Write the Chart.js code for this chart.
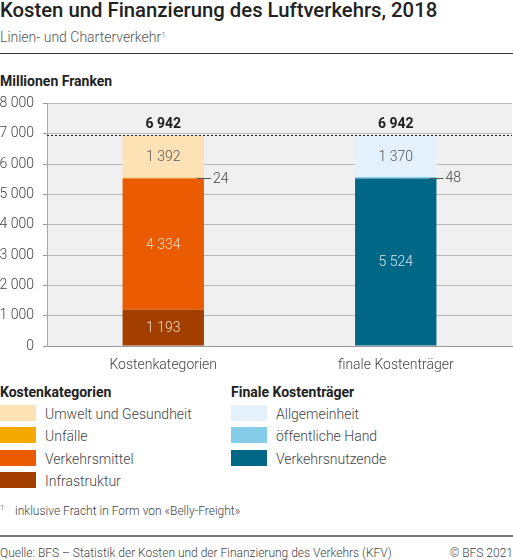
<!DOCTYPE html>
<html lang="de">
<head>
<meta charset="utf-8">
<script src="https://cdn.jsdelivr.net/npm/chart.js@4.4.1/dist/chart.umd.min.js"></script>
<style>
    body { margin: 0; background: #fff; font-family: Roboto, 'Noto Sans', sans-serif; color: #333; }
    #page { position: relative; width: 513px; height: 560px; overflow: hidden; }
    .abs { position: absolute; white-space: nowrap; }
    .title { left: 0; top: 0; font-size: 20.3px; line-height: 20px; font-weight: 500; color: #222; }
    .subtitle { left: 0; top: 30px; font-size: 14px; line-height: 14px; font-weight: 300; color: #555; }
    .subtitle sup, .note sup { font-size: 8px; vertical-align: 5px; line-height: 0; }
    .rule { left: 0; width: 513px; }
    .unit { left: 0; top: 74px; font-size: 14px; line-height: 14px; font-weight: 700; color: #222; }
    .lg-head { top: 385px; font-size: 14px; line-height: 14px; font-weight: 700; color: #222; }
    .sw { width: 36px; height: 16px; }
    .lg-text { font-size: 14px; line-height: 14px; font-weight: 300; color: #444; }
    .note { left: 0; top: 505px; font-size: 12px; line-height: 12px; font-weight: 300; color: #444; }
    .source { top: 547px; font-size: 12px; line-height: 12px; font-weight: 300; color: #444; }
    canvas { position: absolute; left: 0; top: 86px; }
</style>
</head>
<body>
<div id="page">
    <div class="abs title">Kosten und Finanzierung des Luftverkehrs, 2018</div>
    <div class="abs subtitle">Linien- und Charterverkehr<sup>1</sup></div>
    <div class="abs rule" style="top:53px;height:1px;background:#333;"></div>
    <div class="abs unit">Millionen Franken</div>
    <canvas id="myChart" width="513" height="290"></canvas>
    <div id="legend"></div>
    <div class="abs note"><sup>1</sup><span style="position:absolute;left:15px;top:0;">inklusive Fracht in Form von «Belly-Freight»</span></div>
    <div class="abs rule" style="top:535px;height:2px;background:#777;"></div>
    <div class="abs source" style="left:0;">Quelle: BFS – Statistik der Kosten und der Finanzierung des Verkehrs (KFV)</div>
    <div class="abs source" style="right:0;">© BFS 2021</div>
</div>
<script>
const categories = ['Kostenkategorien', 'finale Kostenträger'];
const yTicks = [0, 1000, 2000, 3000, 4000, 5000, 6000, 7000, 8000];
const totals = [6942, 6942];

// Kostenkategorien (bottom to top)
const infrastruktur = [1193, null];
const verkehrsmittel = [4334, null];
const unfaelle = [24, null];
const umwelt = [1392, null];

// finale Kostenträger (bottom to top)
const verkehrsnutzende = [null, 5524];
const oeffentlicheHand = [null, 48];
const allgemeinheit = [null, 1370];

const fmt = (v) => String(v).replace(/\B(?=(\d{3})+(?!\d))/g, ' ');

const datasets = [
    { label: 'Infrastruktur', data: infrastruktur, backgroundColor: '#a13e00', textColor: 'rgba(255,240,230,0.9)' },
    { label: 'Verkehrsmittel', data: verkehrsmittel, backgroundColor: '#ea5b02', textColor: 'rgba(255,240,230,0.9)' },
    { label: 'Unfälle', data: unfaelle, backgroundColor: '#f5a800', textColor: '#444' },
    { label: 'Umwelt und Gesundheit', data: umwelt, backgroundColor: '#fde2b6', textColor: '#555' },
    { label: 'Verkehrsnutzende', data: verkehrsnutzende, backgroundColor: '#006786', textColor: 'rgba(230,245,250,0.9)' },
    { label: 'öffentliche Hand', data: oeffentlicheHand, backgroundColor: '#85cde8', textColor: '#444' },
    { label: 'Allgemeinheit', data: allgemeinheit, backgroundColor: '#e3f1fc', textColor: '#555' }
];

// legend in two columns, top row first
const legendCols = [
    { head: 'Kostenkategorien', x: 0, items: [datasets[3], datasets[2], datasets[1], datasets[0]] },
    { head: 'Finale Kostenträger', x: 231, items: [datasets[6], datasets[5], datasets[4]] }
];
const legend = document.getElementById('legend');
for (let col of legendCols) {
    const h = document.createElement('div');
    h.className = 'abs lg-head';
    h.style.left = col.x + 'px';
    h.textContent = col.head;
    legend.append(h);
    col.items.forEach((ds, i) => {
        const sw = document.createElement('div');
        sw.className = 'abs sw';
        sw.style.left = col.x + 'px';
        sw.style.top = (405 + i * 22.4) + 'px';
        sw.style.background = ds.backgroundColor;
        const t = document.createElement('div');
        t.className = 'abs lg-text';
        t.style.left = (col.x + 45) + 'px';
        t.style.top = (407 + i * 22.4) + 'px';
        t.textContent = ds.label;
        legend.append(sw, t);
    });
}

const plotBackground = {
    id: 'plotBackground',
    beforeDraw(chart) {
        const { ctx, chartArea: a } = chart;
        ctx.save();
        ctx.fillStyle = '#f0f0f0';
        ctx.fillRect(a.left, a.top, a.right - a.left, a.bottom - a.top);
        ctx.restore();
    }
};

const barLabels = {
    id: 'barLabels',
    afterDatasetsDraw(chart) {
        const { ctx, chartArea: a } = chart;
        const y = chart.scales.y;
        const x = chart.scales.x;
        ctx.save();
        ctx.font = '300 14px Roboto, sans-serif';
        ctx.textBaseline = 'middle';
        chart.data.datasets.forEach((ds, di) => {
            chart.getDatasetMeta(di).data.forEach((bar, i) => {
                const v = ds.data[i];
                if (v === null) return;
                const mid = (bar.y + bar.base) / 2;
                if (v > 200) {
                    ctx.fillStyle = ds.textColor;
                    ctx.textAlign = 'center';
                    ctx.fillText(fmt(v), bar.x, mid + 1);
                } else {
                    const right = bar.x + bar.width / 2;
                    ctx.strokeStyle = '#555';
                    ctx.lineWidth = 1;
                    ctx.beginPath();
                    ctx.moveTo(right - 7, Math.round(mid) + 0.5);
                    ctx.lineTo(right + 7, Math.round(mid) + 0.5);
                    ctx.stroke();
                    ctx.fillStyle = '#444';
                    ctx.textAlign = 'left';
                    ctx.fillText(fmt(v), right + 9, mid + 1);
                }
            });
        });
        // total line and labels
        const ty = Math.round(y.getPixelForValue(totals[0])) + 0.5;
        ctx.strokeStyle = '#222';
        ctx.setLineDash([2, 2]);
        ctx.beginPath();
        ctx.moveTo(a.left, ty);
        ctx.lineTo(a.right, ty);
        ctx.stroke();
        ctx.setLineDash([]);
        ctx.font = '700 14px Roboto, sans-serif';
        ctx.fillStyle = '#222';
        ctx.textAlign = 'center';
        totals.forEach((t, i) => {
            ctx.fillText(fmt(t), x.getPixelForValue(i), y.getPixelForValue(t) - 11);
        });
        ctx.restore();
    }
};

const ctx = document.getElementById('myChart').getContext('2d');
var myChart = new Chart(ctx, { // eslint-disable-line
    type: 'bar',
    data: {
        labels: categories,
        datasets: datasets.map(ds => ({
            label: ds.label,
            data: ds.data,
            backgroundColor: ds.backgroundColor,
            textColor: ds.textColor,
            borderWidth: 0,
            categoryPercentage: 1,
            barPercentage: 0.35
        }))
    },
    options: {
        responsive: false,
        animation: false,
        layout: { padding: { top: 7, right: 1 } },
        plugins: {
            legend: { display: false },
            tooltip: { enabled: false }
        },
        scales: {
            x: {
                stacked: true,
                grid: { display: false, drawTicks: false },
                border: { color: '#999', width: 1 },
                ticks: { color: '#444', padding: 11, font: { family: 'Roboto', size: 14, weight: 300 } },
                afterFit: (scale) => { scale.height = 30; }
            },
            y: {
                stacked: true,
                min: 0,
                max: 8000,
                afterBuildTicks: (scale) => { scale.ticks = yTicks.map(v => ({ value: v })); },
                grid: { color: '#b8b8b8', tickColor: '#999', tickLength: 4 },
                border: { color: '#aaa', width: 1 },
                ticks: {
                    color: '#444',
                    padding: 9,
                    font: { family: 'Roboto', size: 14, weight: 300 },
                    callback: (v) => fmt(v)
                },
                afterFit: (scale) => { scale.width = 47; }
            }
        }
    },
    plugins: [plotBackground, barLabels]
});
</script>
</body>
</html>
